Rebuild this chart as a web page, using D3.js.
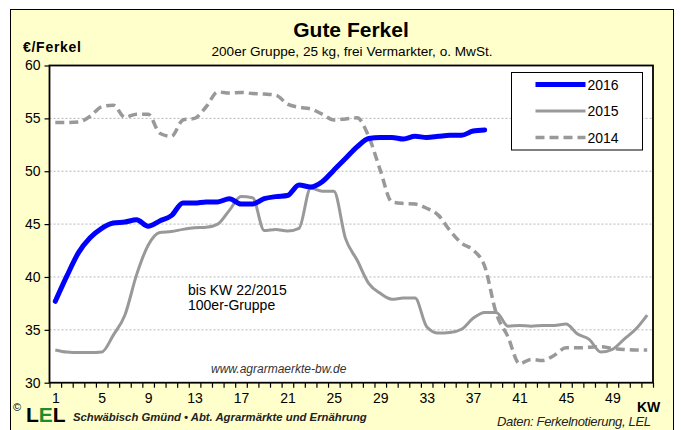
<!DOCTYPE html>
<html>
<head>
<meta charset="utf-8">
<script src="https://cdn.jsdelivr.net/npm/d3@7"></script>
<style>
  body { margin: 0; background: #fff; }
  svg { display: block; font-family: "Liberation Sans", Arial, sans-serif; }
</style>
</head>
<body>
<svg id="chart" width="681" height="430"></svg>
<script>
// Kalenderwochen
var weeks = [1,2,3,4,5,6,7,8,9,10,11,12,13,14,15,16,17,18,19,20,21,22,23,24,25,26,
             27,28,29,30,31,32,33,34,35,36,37,38,39,40,41,42,43,44,45,46,47,48,49,50,51,52];

var price2016 = [37.7,40.1,42.3,43.7,44.6,45.1,45.2,45.4,44.8,45.3,45.8,47.0,47.0,47.1,47.1,47.4,
                 46.9,46.9,47.4,47.6,47.7,48.7,48.5,49.0,50.1,51.2,52.3,53.1,53.2,53.2,53.05,53.3,
                 53.2,53.3,53.4,53.4,53.8,53.9];

var price2015 = [33.1,32.9,32.85,32.85,32.9,34.5,36.4,40.2,43.0,44.2,44.3,44.5,44.65,44.7,45.0,46.3,
                 47.6,47.5,44.4,44.5,44.35,44.6,48.4,48.1,48.1,43.65,41.6,39.4,38.45,37.9,38.0,38.0,
                 35.3,34.7,34.75,35.05,36.1,36.65,36.65,35.35,35.4,35.35,35.4,35.4,35.55,34.6,34.1,32.9,
                 33.15,34.1,35.05,36.4];

var price2014 = [54.6,54.6,54.65,55.2,56.1,56.25,55.1,55.4,55.4,53.6,53.3,54.85,55.0,56.1,57.5,57.4,
                 57.45,57.35,57.3,57.2,56.35,56.05,55.9,55.4,54.85,54.95,55.05,53.3,50.1,47.1,46.95,46.9,
                 46.5,45.85,44.4,43.2,42.55,41.0,36.55,34.35,31.8,32.2,32.1,32.6,33.3,33.3,33.35,33.4,
                 33.25,33.15,33.1,33.1];

var yTicks = [30,35,40,45,50,55,60];
var xLabels = [1,5,9,13,17,21,25,29,33,37,41,45,49];
var seriesNames = ["2016","2015","2014"];

var svg = d3.select("#chart");

// Hintergrund
svg.append("rect")
  .attr("x", 10.5).attr("y", 9.5)
  .attr("width", 663).attr("height", 440)
  .attr("fill", "#ffffcc")
  .attr("stroke", "#000")
  .attr("stroke-width", 1);

var plotLeft = 49.5, plotRight = 653, plotTop = 65.5, plotBottom = 382.7;

var x = d3.scaleLinear().domain([0.5, 52.5]).range([plotLeft, plotRight]);
var y = d3.scaleLinear().domain([30, 60]).range([plotBottom, plotTop]);

svg.append("rect")
  .attr("x", plotLeft).attr("y", plotTop)
  .attr("width", plotRight - plotLeft).attr("height", plotBottom - plotTop)
  .attr("fill", "#fff");

// Gitternetz
svg.append("g").selectAll("line")
  .data(yTicks.filter(function(d) { return d > 30 && d < 60; }))
  .enter().append("line")
  .attr("x1", plotLeft).attr("x2", plotRight)
  .attr("y1", function(d) { return y(d); })
  .attr("y2", function(d) { return y(d); })
  .attr("stroke", "#b8b8b8")
  .attr("stroke-width", 1)
  .attr("stroke-dasharray", "2,2");

// Achsen
var boundaries = weeks.map(function(w) { return w - 0.5; }).concat([52.5]);
svg.append("g")
  .attr("transform", "translate(0," + plotBottom + ")")
  .call(d3.axisBottom(x).tickValues(boundaries).tickSize(5).tickFormat(""))
  .call(function(g) { g.select(".domain").remove(); })
  .selectAll("line").attr("stroke", "#000").attr("stroke-width", 1.2);

svg.append("g")
  .attr("transform", "translate(0," + plotBottom + ")")
  .call(d3.axisBottom(x).tickValues(xLabels).tickSize(0).tickPadding(10))
  .call(function(g) { g.select(".domain").remove(); })
  .selectAll("text")
  .attr("font-size", 14)
  .attr("font-family", "Liberation Sans, Arial, sans-serif")
  .attr("fill", "#000");

svg.append("g")
  .attr("transform", "translate(" + plotLeft + ",0)")
  .call(d3.axisLeft(y).tickValues(yTicks).tickSize(5).tickPadding(4))
  .call(function(g) { g.select(".domain").remove(); })
  .call(function(g) {
    g.selectAll("line").attr("stroke", "#000").attr("stroke-width", 1.2);
    g.selectAll("text")
      .attr("font-size", 14)
      .attr("font-family", "Liberation Sans, Arial, sans-serif")
      .attr("fill", "#000");
  });

// Linien
var line = d3.line()
  .x(function(d, i) { return x(weeks[i]); })
  .y(function(d) { return y(d); })
  .curve(d3.curveMonotoneX);

svg.append("path")
  .datum(price2014)
  .attr("d", line)
  .attr("fill", "none")
  .attr("stroke", "#999999")
  .attr("stroke-width", 3.5)
  .attr("stroke-dasharray", "9,5");

svg.append("path")
  .datum(price2015)
  .attr("d", line)
  .attr("fill", "none")
  .attr("stroke", "#999999")
  .attr("stroke-width", 3);

svg.append("path")
  .datum(price2016)
  .attr("d", line)
  .attr("fill", "none")
  .attr("stroke", "#0000ff")
  .attr("stroke-width", 5)
  .attr("stroke-linecap", "round");

// Rahmen Zeichnungsfläche
svg.append("rect")
  .attr("x", plotLeft).attr("y", plotTop)
  .attr("width", plotRight - plotLeft).attr("height", plotBottom - plotTop)
  .attr("fill", "none")
  .attr("stroke", "#000")
  .attr("stroke-width", 1.8);

// Legende
var legend = svg.append("g").attr("transform", "translate(511.5,72.5)");
legend.append("rect")
  .attr("width", 131).attr("height", 77.5)
  .attr("fill", "#fff").attr("stroke", "#000").attr("stroke-width", 1);

var legendStyles = [
  { color: "#0000ff", width: 5, dash: null },
  { color: "#999999", width: 3, dash: null },
  { color: "#999999", width: 3.5, dash: "9,5" }
];

var rows = legend.selectAll("g.row")
  .data(seriesNames)
  .enter().append("g")
  .attr("class", "row")
  .attr("transform", function(d, i) { return "translate(0," + (12 + i * 26.5) + ")"; });

rows.append("line")
  .attr("x1", 24).attr("x2", 74)
  .attr("stroke", function(d, i) { return legendStyles[i].color; })
  .attr("stroke-width", function(d, i) { return legendStyles[i].width; })
  .attr("stroke-dasharray", function(d, i) { return legendStyles[i].dash; });

rows.append("text")
  .attr("x", 76).attr("y", 5)
  .attr("font-size", 14)
  .text(function(d) { return d; });

// Titel
svg.append("text")
  .attr("x", 351).attr("y", 37)
  .attr("text-anchor", "middle")
  .attr("font-size", 21).attr("font-weight", "bold")
  .text("Gute Ferkel");

svg.append("text")
  .attr("x", 352).attr("y", 56)
  .attr("text-anchor", "middle")
  .attr("font-size", 13.6)
  .text("200er Gruppe, 25 kg, frei Vermarkter, o. MwSt.");

svg.append("text")
  .attr("x", 23).attr("y", 52)
  .attr("font-size", 14).attr("font-weight", "bold")
  .attr("textLength", 58)
  .text("€/Ferkel");

svg.append("text")
  .attr("x", 637).attr("y", 412)
  .attr("font-size", 14).attr("font-weight", "bold")
  .text("KW");

// Hinweise
svg.append("text")
  .attr("x", 188).attr("y", 295)
  .attr("font-size", 14)
  .text("bis KW 22/2015");
svg.append("text")
  .attr("x", 188).attr("y", 310)
  .attr("font-size", 14)
  .text("100er-Gruppe");

svg.append("text")
  .attr("x", 211).attr("y", 373)
  .attr("font-size", 12).attr("font-style", "italic")
  .attr("fill", "#333")
  .text("www.agrarmaerkte-bw.de");

// Fußzeile
svg.append("text")
  .attr("x", 13).attr("y", 411)
  .attr("font-size", 11)
  .text("©");

var logo = svg.append("text")
  .attr("x", 26).attr("y", 422)
  .attr("font-size", 21).attr("font-weight", "bold");
logo.append("tspan").text("L");
logo.append("tspan").attr("fill", "#1f8a2e").text("E");
logo.append("tspan").text("L");

svg.append("text")
  .attr("x", 73).attr("y", 421)
  .attr("font-size", 11.3).attr("font-style", "italic").attr("font-weight", "bold")
  .attr("fill", "#222")
  .text("Schwäbisch Gmünd • Abt. Agrarmärkte und Ernährung");

svg.append("text")
  .attr("x", 497).attr("y", 426)
  .attr("font-size", 13).attr("font-style", "italic")
  .attr("textLength", 154)
  .attr("fill", "#222")
  .text("Daten: Ferkelnotierung, LEL");
</script>
</body>
</html>
